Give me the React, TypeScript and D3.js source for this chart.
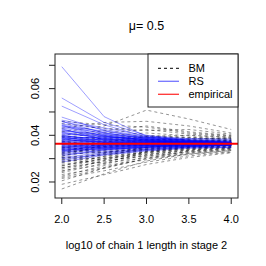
import React from "react"
import * as d3 from "d3"

// log10 of chain 1 length in stage 2
const lengths = [2, 2.5, 3, 3.5, 4]

// RS estimates, one row per replicate (values at each length)
const rsRuns = [
  [0.0694, 0.0480, 0.0395, 0.0375, 0.0368],
  [0.0560, 0.0455, 0.0400, 0.0378, 0.0370],
  [0.0525, 0.0445, 0.0392, 0.0385, 0.0384],
  [0.0478, 0.0420, 0.0388, 0.0376, 0.0369],
  [0.0465, 0.0432, 0.0398, 0.0386, 0.0380],
  [0.0460, 0.0410, 0.0384, 0.0372, 0.0366],
  [0.0445, 0.0405, 0.0380, 0.0374, 0.0368],
  [0.0440, 0.0418, 0.0391, 0.0379, 0.0376],
  [0.0432, 0.0398, 0.0377, 0.0370, 0.0367],
  [0.0425, 0.0392, 0.0386, 0.0373, 0.0369],
  [0.0418, 0.0401, 0.0379, 0.0368, 0.0364],
  [0.0412, 0.0388, 0.0372, 0.0371, 0.0366],
  [0.0405, 0.0395, 0.0383, 0.0375, 0.0370],
  [0.0400, 0.0378, 0.0370, 0.0366, 0.0363],
  [0.0396, 0.0385, 0.0376, 0.0369, 0.0367],
  [0.0391, 0.0372, 0.0368, 0.0364, 0.0362],
  [0.0388, 0.0381, 0.0374, 0.0370, 0.0368],
  [0.0384, 0.0368, 0.0371, 0.0367, 0.0365],
  [0.0380, 0.0376, 0.0366, 0.0363, 0.0361],
  [0.0377, 0.0371, 0.0369, 0.0368, 0.0366],
  [0.0373, 0.0362, 0.0365, 0.0362, 0.0363],
  [0.0370, 0.0374, 0.0372, 0.0369, 0.0367],
  [0.0367, 0.0358, 0.0361, 0.0363, 0.0364],
  [0.0364, 0.0366, 0.0367, 0.0365, 0.0365],
  [0.0361, 0.0355, 0.0359, 0.0360, 0.0362],
  [0.0358, 0.0369, 0.0363, 0.0366, 0.0366],
  [0.0355, 0.0352, 0.0357, 0.0361, 0.0360],
  [0.0352, 0.0361, 0.0364, 0.0364, 0.0365],
  [0.0349, 0.0348, 0.0355, 0.0358, 0.0361],
  [0.0346, 0.0357, 0.0360, 0.0362, 0.0363],
  [0.0343, 0.0345, 0.0352, 0.0357, 0.0359],
  [0.0340, 0.0353, 0.0358, 0.0361, 0.0364],
  [0.0337, 0.0342, 0.0350, 0.0355, 0.0358],
  [0.0334, 0.0350, 0.0356, 0.0359, 0.0362],
  [0.0330, 0.0339, 0.0348, 0.0354, 0.0357],
  [0.0326, 0.0346, 0.0354, 0.0360, 0.0363],
  [0.0322, 0.0335, 0.0345, 0.0352, 0.0356],
  [0.0318, 0.0329, 0.0342, 0.0351, 0.0355],
  [0.0312, 0.0338, 0.0350, 0.0356, 0.0360],
  [0.0305, 0.0326, 0.0340, 0.0349, 0.0350],
  [0.0300, 0.0318, 0.0336, 0.0347, 0.0346],
  [0.0385, 0.0393, 0.0382, 0.0372, 0.0368],
  [0.0372, 0.0385, 0.0378, 0.0371, 0.0368],
  [0.0360, 0.0347, 0.0353, 0.0357, 0.0360],
  [0.0395, 0.0364, 0.0362, 0.0361, 0.0362],
  [0.0285, 0.0315, 0.0333, 0.0344, 0.0349],
  [0.0292, 0.0322, 0.0338, 0.0350, 0.0356],
  [0.0458, 0.0425, 0.0392, 0.0380, 0.0374],
  [0.0450, 0.0412, 0.0385, 0.0377, 0.0371],
  [0.0442, 0.0396, 0.0375, 0.0368, 0.0365],
  [0.0436, 0.0409, 0.0388, 0.0378, 0.0372],
  [0.0428, 0.0380, 0.0370, 0.0366, 0.0364],
  [0.0421, 0.0403, 0.0390, 0.0381, 0.0375],
  [0.0414, 0.0384, 0.0374, 0.0369, 0.0366],
  [0.0408, 0.0397, 0.0381, 0.0372, 0.0368],
  [0.0402, 0.0370, 0.0364, 0.0365, 0.0364],
  [0.0393, 0.0389, 0.0379, 0.0373, 0.0369],
  [0.0386, 0.0360, 0.0358, 0.0360, 0.0361],
  [0.0379, 0.0383, 0.0375, 0.0370, 0.0367],
  [0.0369, 0.0354, 0.0356, 0.0359, 0.0360],
  [0.0362, 0.0377, 0.0371, 0.0368, 0.0366],
  [0.0354, 0.0343, 0.0349, 0.0355, 0.0358],
  [0.0345, 0.0367, 0.0366, 0.0365, 0.0365],
  [0.0338, 0.0340, 0.0347, 0.0353, 0.0357],
  [0.0332, 0.0359, 0.0362, 0.0363, 0.0364],
]

// BM estimates, one row per replicate
const bmRuns = [
  [0.0170, 0.0235, 0.0290, 0.0320, 0.0335],
  [0.0190, 0.0231, 0.0275, 0.0305, 0.0325],
  [0.0205, 0.0260, 0.0300, 0.0318, 0.0330],
  [0.0215, 0.0248, 0.0285, 0.0312, 0.0328],
  [0.0225, 0.0270, 0.0295, 0.0325, 0.0338],
  [0.0232, 0.0262, 0.0310, 0.0330, 0.0342],
  [0.0240, 0.0280, 0.0305, 0.0322, 0.0335],
  [0.0248, 0.0275, 0.0318, 0.0335, 0.0345],
  [0.0255, 0.0290, 0.0312, 0.0328, 0.0340],
  [0.0262, 0.0285, 0.0325, 0.0340, 0.0348],
  [0.0270, 0.0300, 0.0320, 0.0338, 0.0350],
  [0.0276, 0.0295, 0.0330, 0.0345, 0.0352],
  [0.0282, 0.0310, 0.0328, 0.0342, 0.0355],
  [0.0288, 0.0305, 0.0338, 0.0350, 0.0358],
  [0.0294, 0.0318, 0.0335, 0.0348, 0.0356],
  [0.0300, 0.0325, 0.0345, 0.0355, 0.0360],
  [0.0306, 0.0315, 0.0342, 0.0358, 0.0362],
  [0.0312, 0.0335, 0.0350, 0.0360, 0.0365],
  [0.0318, 0.0328, 0.0348, 0.0363, 0.0366],
  [0.0324, 0.0345, 0.0358, 0.0365, 0.0368],
  [0.0330, 0.0338, 0.0355, 0.0368, 0.0370],
  [0.0336, 0.0352, 0.0365, 0.0370, 0.0372],
  [0.0342, 0.0348, 0.0362, 0.0372, 0.0374],
  [0.0348, 0.0360, 0.0372, 0.0375, 0.0376],
  [0.0354, 0.0365, 0.0378, 0.0378, 0.0378],
  [0.0360, 0.0372, 0.0385, 0.0382, 0.0380],
  [0.0366, 0.0380, 0.0392, 0.0388, 0.0383],
  [0.0372, 0.0390, 0.0400, 0.0392, 0.0386],
  [0.0380, 0.0398, 0.0410, 0.0398, 0.0390],
  [0.0390, 0.0410, 0.0425, 0.0405, 0.0395],
  [0.0400, 0.0420, 0.0440, 0.0415, 0.0400],
  [0.0415, 0.0440, 0.0508, 0.0470, 0.0425],
  [0.0430, 0.0455, 0.0460, 0.0440, 0.0410],
  [0.0450, 0.0430, 0.0420, 0.0425, 0.0405],
  [0.0460, 0.0445, 0.0435, 0.0410, 0.0398],
  [0.0325, 0.0370, 0.0395, 0.0400, 0.0392],
  [0.0310, 0.0360, 0.0380, 0.0385, 0.0388],
  [0.0296, 0.0280, 0.0330, 0.0352, 0.0362],
  [0.0268, 0.0310, 0.0350, 0.0362, 0.0370],
  [0.0350, 0.0330, 0.0340, 0.0352, 0.0358],
  [0.0285, 0.0322, 0.0340, 0.0355, 0.0362],
  [0.0305, 0.0298, 0.0332, 0.0348, 0.0357],
  [0.0320, 0.0355, 0.0368, 0.0372, 0.0375],
  [0.0338, 0.0325, 0.0348, 0.0360, 0.0364],
  [0.0345, 0.0375, 0.0382, 0.0380, 0.0378],
  [0.0260, 0.0302, 0.0325, 0.0345, 0.0352],
  [0.0245, 0.0292, 0.0315, 0.0336, 0.0348],
  [0.0375, 0.0352, 0.0360, 0.0368, 0.0371],
  [0.0395, 0.0385, 0.0395, 0.0390, 0.0384],
  [0.0220, 0.0258, 0.0302, 0.0332, 0.0344],
]

const empirical = 0.0364
const xTicks = [2, 2.5, 3, 3.5, 4]
const yTicks = [0.02, 0.03, 0.04, 0.05, 0.06, 0.07]
const yLabels = [0.02, 0.04, 0.06]
const legendItems = [
  {label: "BM", color: "#333", dash: "3,3"},
  {label: "RS", color: "rgba(0,0,255,0.55)", dash: null},
  {label: "empirical", color: "#ff3333", dash: null},
]

const FONT = "'Liberation Sans', Arial, Helvetica, sans-serif"

const App = () => {
  const left = 55, right = 238, top = 54, bottom = 198

  const x = d3.scaleLinear().domain([1.92, 4.08]).range([left, right])
  const y = d3.scaleLinear().domain([0.01314, 0.07484]).range([bottom, top])

  const line = d3.line<number>()
    .x((_, i) => x(lengths[i]))
    .y(d => y(d))

  return (
    <svg width={266} height={266} style={{position: "fixed", left: 0, top: 0, background: "#fff"}}
      fontFamily={FONT}>
      <defs>
        <clipPath id="plotArea">
          <rect x={left} y={top} width={right - left} height={bottom - top} />
        </clipPath>
      </defs>

      <text x={146.5} y={26} fontSize={12.5} textAnchor="middle" dominantBaseline="central">μ= 0.5</text>

      <g clipPath="url(#plotArea)">
        {bmRuns.map((r, i) => (
          <path key={"bm" + i} d={line(r) || ""} fill="none" stroke="rgba(0,0,0,0.42)"
            strokeWidth={1} strokeDasharray="3,3" />
        ))}
        {rsRuns.map((r, i) => (
          <path key={"rs" + i} d={line(r) || ""} fill="none" stroke="rgba(0,0,255,0.38)"
            strokeWidth={1} />
        ))}
        <line x1={left} x2={right} y1={y(empirical)} y2={y(empirical)} stroke="red" strokeWidth={2} />
      </g>

      <rect x={left} y={top} width={right - left} height={bottom - top} fill="none" stroke="#222" strokeWidth={1} />

      {/* x axis */}
      {xTicks.map(t => (
        <g key={"xt" + t}>
          <line x1={x(t)} x2={x(t)} y1={bottom} y2={bottom + 6} stroke="#222" />
          <text x={x(t)} y={218.7} fontSize={11} textAnchor="middle" dominantBaseline="central">
            {d3.format(".1f")(t)}
          </text>
        </g>
      ))}
      <text x={146.5} y={244.7} fontSize={11} textAnchor="middle" dominantBaseline="central">
        log10 of chain 1 length in stage 2
      </text>

      {/* y axis */}
      {yTicks.map(t => (
        <line key={"yt" + t} x1={left - 6} x2={left} y1={y(t)} y2={y(t)} stroke="#222" />
      ))}
      {yLabels.map(t => (
        <text key={"yl" + t} transform={`translate(35,${y(t)}) rotate(-90)`} fontSize={11}
          textAnchor="middle" dominantBaseline="central">
          {d3.format(".2f")(t)}
        </text>
      ))}

      {/* legend */}
      <rect x={148} y={top} width={right - 148} height={53} fill="#fff" stroke="#222" strokeWidth={1} />
      {legendItems.map((d, i) => {
        const ly = 68.3 + i * 13
        return (
          <g key={d.label}>
            <line x1={158} x2={179} y1={ly} y2={ly} stroke={d.color} strokeWidth={1.3}
              strokeDasharray={d.dash || undefined} />
            <text x={188.5} y={ly} fontSize={11} dominantBaseline="central">{d.label}</text>
          </g>
        )
      })}
    </svg>
  )
}

export default App
